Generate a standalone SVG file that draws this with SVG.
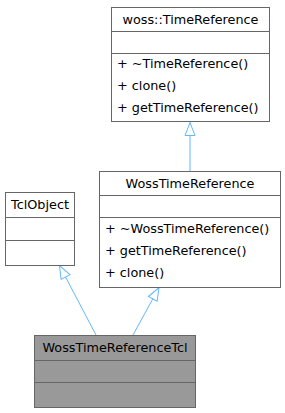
<svg xmlns="http://www.w3.org/2000/svg" width="285" height="413" viewBox="0 0 285 413">
<style>
  .box { fill: #ffffff; stroke: #666666; stroke-width: 1; }
  .cur { fill: #999999; stroke: #666666; stroke-width: 1; }
  .sep { stroke: #666666; stroke-width: 1; fill: none; }
  text { font-family: "DejaVu Sans", sans-serif; font-size: 12.8px; fill: #000000; }
  .t { text-anchor: middle; }
  .edge { stroke: #63b8ff; stroke-width: 1; fill: none; marker-end: url(#tri); }
</style>
<defs>
  <marker id="tri" markerUnits="userSpaceOnUse" markerWidth="15" markerHeight="12" viewBox="0 0 15 12" refX="14" refY="6" orient="auto">
    <path d="M1,1 L14,6 L1,11 Z" fill="#ffffff" stroke="#63b8ff" stroke-width="1"/>
  </marker>
</defs>
<g id="connectors">
  <path class="edge" d="M190,171 L190,122.5"/>
  <path class="edge" d="M96,335 L59.5,265.5"/>
  <path class="edge" d="M133,335 L159,287.5"/>
</g>
<g id="woss_TimeReference">
  <rect class="box" x="111.5" y="7.5" width="158" height="114"/>
  <line class="sep" x1="111.5" y1="31.5" x2="269.5" y2="31.5"/>
  <line class="sep" x1="111.5" y1="53.5" x2="269.5" y2="53.5"/>
  <text class="t" x="190.5" y="24">woss::TimeReference</text>
  <text x="117" y="68">+ ~TimeReference()</text>
  <text x="117" y="90">+ clone()</text>
  <text x="117" y="112">+ getTimeReference()</text>
</g>
<g id="WossTimeReference">
  <rect class="box" x="99.5" y="171.5" width="181" height="116"/>
  <line class="sep" x1="99.5" y1="195.5" x2="280.5" y2="195.5"/>
  <line class="sep" x1="99.5" y1="217.5" x2="280.5" y2="217.5"/>
  <text class="t" x="190" y="188">WossTimeReference</text>
  <text x="105" y="233">+ ~WossTimeReference()</text>
  <text x="105" y="255">+ getTimeReference()</text>
  <text x="105" y="277">+ clone()</text>
</g>
<g id="TclObject">
  <rect class="box" x="5.5" y="192.5" width="69" height="73"/>
  <line class="sep" x1="5.5" y1="217.5" x2="74.5" y2="217.5"/>
  <line class="sep" x1="5.5" y1="240.5" x2="74.5" y2="240.5"/>
  <text class="t" x="40" y="209">TclObject</text>
</g>
<g id="WossTimeReferenceTcl">
  <rect class="cur" x="34.5" y="335.5" width="161" height="72"/>
  <line class="sep" x1="34.5" y1="360.5" x2="195.5" y2="360.5"/>
  <line class="sep" x1="34.5" y1="382.5" x2="195.5" y2="382.5"/>
  <text class="t" x="115" y="352">WossTimeReferenceTcl</text>
</g>
</svg>
